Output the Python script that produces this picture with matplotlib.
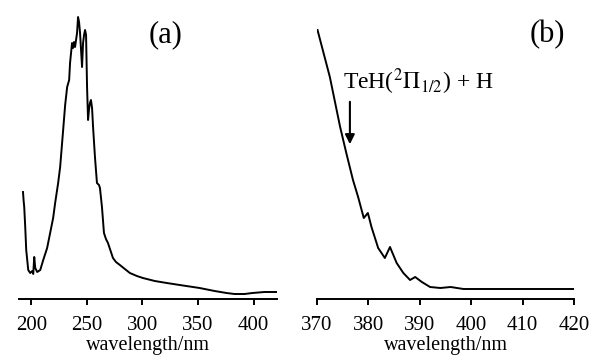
import matplotlib.pyplot as plt
import numpy as np

plt.rcParams['font.family'] = ['Liberation Serif', 'DejaVu Serif']
plt.rcParams['mathtext.fontset'] = 'stix'

# Panel (a): broad absorption spectrum (arbitrary units)
wl_a = [192.6, 193.1, 193.7, 194.6, 195.5, 197.3, 199.1, 200.9, 201.8, 202.7,
        203.6, 205.4, 208.1, 210.8, 214.3, 217.0, 219.7, 221.5, 224.2, 226.0,
        228.7, 230.5, 232.3, 234.1, 234.9, 236.7, 237.6, 238.5, 239.4, 241.2,
        242.1, 243.0, 243.9, 244.8, 245.7, 246.6, 247.5, 248.4, 249.3, 250.2,
        251.1, 251.9, 252.8, 253.7, 254.7, 255.6, 257.3, 259.1, 260.9, 261.8,
        263.6, 265.4, 267.2, 269.0, 271.7, 273.5, 276.2, 279.7, 284.2, 288.7,
        295.0, 300.4, 311.1, 321.9, 333.5, 351.4, 364.9, 375.6, 382.8, 391.8,
        398.9, 409.7, 420.4]
abs_a = [107, 99, 92, 72, 49, 29, 26, 28, 25, 42,
         31, 27, 29, 39, 51, 66, 81, 96, 116, 132,
         169, 194, 212, 219, 236, 256, 251, 257, 252, 266,
         282, 277, 266, 249, 232, 256, 264, 269, 264, 212,
         179, 189, 196, 199, 191, 172, 142, 116, 114, 111,
         92, 66, 60, 56, 47, 41, 37, 34, 30, 26,
         23, 21, 18, 16, 14, 11, 8, 6, 5, 5,
         6, 7, 7]

# Panel (b): long-wavelength tail
wl_b = [370.1, 372.5, 374.5, 375.7, 377.0, 378.0, 379.1, 379.9, 380.6, 381.9,
        383.2, 384.2, 385.5, 386.8, 388.1, 389.1, 390.4, 392.0, 394.0, 396.0,
        398.5, 403.8, 410.0, 420.0]
abs_b = [269, 222, 172, 146, 119, 102, 81, 86, 72, 51,
         41, 52, 36, 26, 19, 22, 17, 12, 11, 12,
         10, 10, 10, 10]

fig = plt.figure(figsize=(5.93, 3.60), dpi=100)
ax1 = fig.add_axes([19/593, 61/360, 258/593, 289/360])
ax2 = fig.add_axes([317/593, 61/360, 257/593, 289/360])

ax1.plot(wl_a, abs_a, color='black', lw=1.4)
ax2.plot(wl_b, abs_b, color='black', lw=1.4)

ax1.set_xlim(189, 421)
ax1.set_xticks([200, 250, 300, 350, 400])
ax2.set_xlim(370, 420)
ax2.set_xticks([370, 380, 390, 400, 410, 420])

for ax in (ax1, ax2):
    ax.set_ylim(0, 289)
    for s in ('top', 'left', 'right'):
        ax.spines[s].set_visible(False)
    ax.spines['bottom'].set_linewidth(1.4)
    ax.set_yticks([])
    ax.tick_params(axis='x', direction='out', length=4, width=1.4,
                   labelsize=15, pad=8)
    ax.set_xlabel('wavelength/nm', fontsize=14.5, labelpad=1)
    ax.patch.set_alpha(0)

ax1.text(0.57, 0.915, '(a)', transform=ax1.transAxes, fontsize=22,
         ha='center', va='center')
ax2.text(0.895, 0.915, '(b)', transform=ax2.transAxes, fontsize=22,
         ha='center', va='center')

ax2.annotate('', xy=(376.4, 152), xytext=(376.4, 200),
             arrowprops=dict(arrowstyle='-|>', color='black', lw=1.5,
                             mutation_scale=14))
ax2.text(375.1, 217, r'TeH($^2\Pi_{1/2}$) + H', fontsize=17,
         ha='left', va='center')

fig.savefig('out.png', dpi=100)
